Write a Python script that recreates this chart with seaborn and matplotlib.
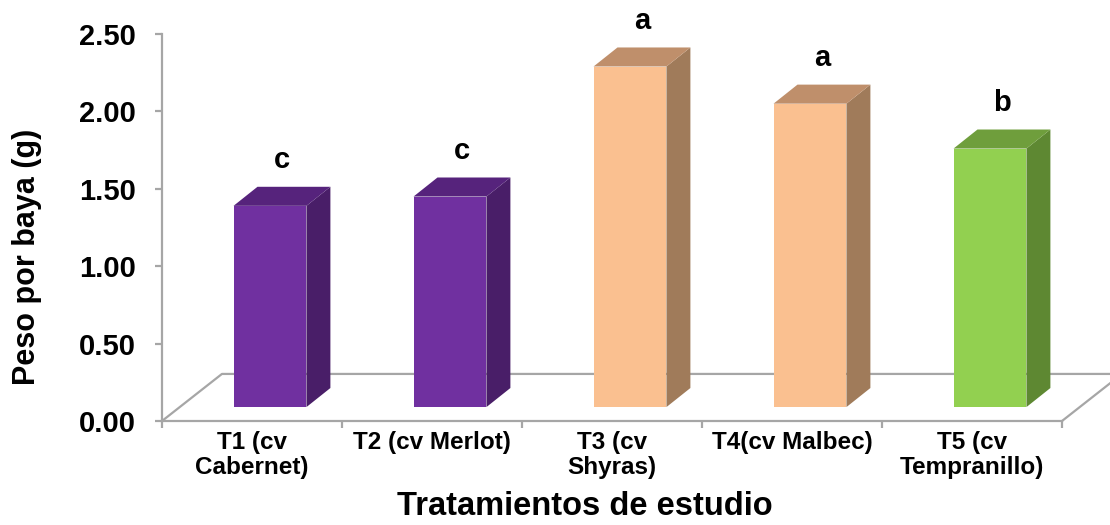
import matplotlib
matplotlib.use("Agg")
import matplotlib.pyplot as plt
from matplotlib.patches import Polygon
from matplotlib.ticker import FixedLocator, FormatStrFormatter
import seaborn as sns
import pandas as pd

# ---- data ----
categories = ["T1 (cv\nCabernet)", "T2 (cv Merlot)", "T3 (cv\nShyras)",
              "T4(cv Malbec)", "T5 (cv\nTempranillo)"]
values = [1.30, 1.36, 2.20, 1.96, 1.67]
letters = ["c", "c", "a", "a", "b"]
front_colors = ["#7030A0", "#7030A0", "#FAC090", "#FAC090", "#92D050"]
top_colors = ["#56237C", "#56237C", "#BF8F6B", "#BF8F6B", "#6F9E3C"]
side_colors = ["#491E68", "#491E68", "#A07B5A", "#A07B5A", "#5E8832"]
y_ticks = [0.0, 0.5, 1.0, 1.5, 2.0, 2.5]

sns.set_theme(style="white")
plt.rcParams["font.family"] = ["Liberation Sans", "DejaVu Sans"]
plt.rcParams["font.weight"] = "bold"

fig = plt.figure(figsize=(11.1, 5.25), dpi=100)
ax = fig.add_axes([162 / 1110, 104 / 525, 900 / 1110, 387 / 525])

df = pd.DataFrame({"cat": categories, "val": values})
sns.barplot(data=df, x="cat", y="val", hue="cat", palette=front_colors,
            width=0.405, saturation=1, legend=False, ax=ax, zorder=3,
            linewidth=0, edgecolor="none")

gray = "#A6A6A6"
# 3D geometry (style offsets)
floor_dx, floor_dy = 0.333, 0.304
bar_shift_x, bar_base = 0.10, 0.09
depth_dx, depth_dy = 0.133, 0.123

ax.set_xlim(-0.5, 4.5)
ax.set_ylim(0, 2.5)

# floor
ax.plot([-0.5, -0.5 + floor_dx, 4.5 + floor_dx], [0, floor_dy, floor_dy],
        color=gray, lw=1.6, clip_on=False, zorder=1)
ax.plot([4.5, 4.5 + floor_dx], [0, floor_dy], color=gray, lw=1.6,
        clip_on=False, zorder=1)

for i, p in enumerate(ax.patches):
    p.set_x(p.get_x() + bar_shift_x)
    p.set_y(bar_base)
    x0 = p.get_x()
    x1 = x0 + p.get_width()
    y0 = bar_base
    y1 = bar_base + p.get_height()
    side = Polygon([(x1, y0), (x1 + depth_dx, y0 + depth_dy),
                    (x1 + depth_dx, y1 + depth_dy), (x1, y1)],
                   closed=True, facecolor=side_colors[i], edgecolor="none",
                   zorder=3, clip_on=False)
    top = Polygon([(x0, y1), (x0 + depth_dx, y1 + depth_dy),
                   (x1 + depth_dx, y1 + depth_dy), (x1, y1)],
                  closed=True, facecolor=top_colors[i], edgecolor="none",
                  zorder=3, clip_on=False)
    ax.add_patch(side)
    ax.add_patch(top)
    ax.text((x0 + x1 + depth_dx) / 2, y1 + depth_dy + 0.17, letters[i],
            ha="center", va="center", fontsize=21, fontweight="bold",
            color="black", clip_on=False)

# axes styling
for s in ["top", "right"]:
    ax.spines[s].set_visible(False)
for s in ["left", "bottom"]:
    ax.spines[s].set_color(gray)
    ax.spines[s].set_linewidth(1.6)
    ax.spines[s].set_zorder(2)

ax.yaxis.set_major_locator(FixedLocator(y_ticks))
ax.yaxis.set_major_formatter(FormatStrFormatter("%.2f"))
ax.tick_params(axis="y", which="major", direction="out", length=5, width=1.6,
               color=gray, pad=14, labelsize=21, left=True)
ax.xaxis.set_minor_locator(FixedLocator([-0.5, 0.5, 1.5, 2.5, 3.5, 4.5]))
ax.tick_params(axis="x", which="major", length=0, pad=7, labelsize=17.5)
ax.tick_params(axis="x", which="minor", direction="out", length=5, width=1.6,
               color=gray, bottom=True)
for lbl in ax.get_xticklabels() + ax.get_yticklabels():
    lbl.set_fontweight("bold")
    lbl.set_color("black")
    lbl.set_linespacing(1.15)

ax.set_xlabel("Tratamientos de estudio", fontsize=23.5, fontweight="bold",
              color="black")
ax.set_ylabel("Peso por baya (g)", fontsize=22, fontweight="bold",
              color="black")
ax.xaxis.set_label_coords((585 - 162) / 900, -0.18)
ax.yaxis.set_label_coords(-0.133, 0.424)

fig.savefig("out.png", dpi=100)
